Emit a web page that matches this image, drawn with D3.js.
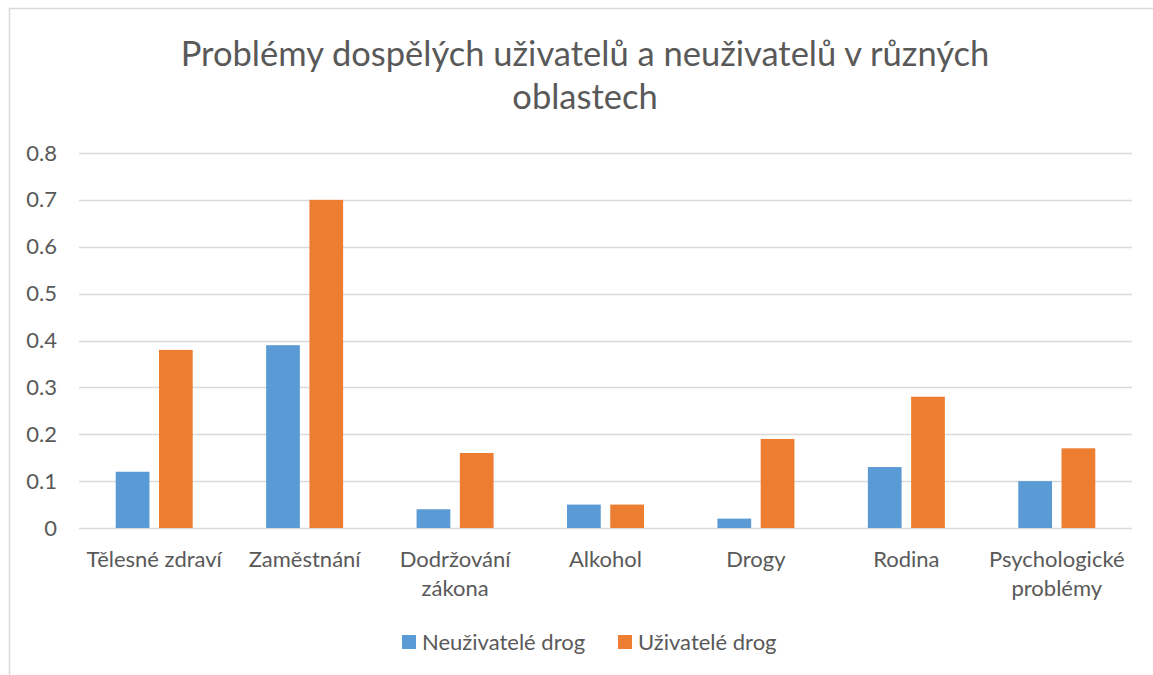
<!DOCTYPE html>
<html>
<head>
<meta charset="utf-8">
<script src="https://cdn.jsdelivr.net/npm/d3@7"></script>
<style>
  body { margin: 0; background: #fff; }
  text { font-family: Lato, "Open Sans", sans-serif; fill: #595959; }
</style>
</head>
<body>
<svg></svg>
<script>
'use strict';

var categories = [
  ['Tělesné zdraví'],
  ['Zaměstnání'],
  ['Dodržování', 'zákona'],
  ['Alkohol'],
  ['Drogy'],
  ['Rodina'],
  ['Psychologické', 'problémy']
];
var seriesNames = ['Neuživatelé drog', 'Uživatelé drog'];
var nonUsers = [0.12, 0.39, 0.04, 0.05, 0.02, 0.13, 0.10];
var users = [0.38, 0.70, 0.16, 0.05, 0.19, 0.28, 0.17];
var yTicks = [0, 0.1, 0.2, 0.3, 0.4, 0.5, 0.6, 0.7, 0.8];
var colors = ['#5b9bd5', '#ed7d31'];

var SVG_SIZE = {width: 1153, height: 675};
var MARGIN = {left: 79, right: 21, top: 153, bottom: 147};
var plotW = SVG_SIZE.width - MARGIN.left - MARGIN.right;
var plotH = SVG_SIZE.height - MARGIN.top - MARGIN.bottom;

var svg = d3.select('svg')
  .attr('width', SVG_SIZE.width).attr('height', SVG_SIZE.height);

// chart frame
svg.append('rect')
  .attr('x', 9.5).attr('y', 8.5)
  .attr('width', 1160).attr('height', 700)
  .attr('fill', 'none').attr('stroke', '#d9d9d9').attr('stroke-width', 1.5);

// title
svg.append('text')
  .attr('x', 585).attr('y', 0)
  .attr('text-anchor', 'middle')
  .style('font-size', '34.5px')
  .selectAll('tspan')
  .data(['Problémy dospělých uživatelů a neuživatelů v různých', 'oblastech'])
  .enter().append('tspan')
  .attr('x', 585)
  .attr('y', function(d, i) { return 66 + i * 43; })
  .text(function(d) { return d; });

var xScale = d3.scaleBand()
  .domain(d3.range(categories.length))
  .range([0, plotW]);

var inner = d3.scaleBand()
  .domain([0, 1])
  .range([0, 77])
  .paddingInner(0.22);

var yScale = d3.scaleLinear()
  .domain([0, 0.8])
  .range([plotH, 0]);

var plot = svg.append('g')
  .attr('transform', 'translate(' + MARGIN.left + ',' + MARGIN.top + ')');

// gridlines
plot.selectAll('.grid').data(yTicks).enter().append('line')
  .attr('x1', 0).attr('x2', plotW)
  .attr('y1', function(d) { return Math.round(yScale(d)) + 0.5; })
  .attr('y2', function(d) { return Math.round(yScale(d)) + 0.5; })
  .attr('stroke', '#d9d9d9').attr('stroke-width', 1.5);

// y axis labels
var yAxis = d3.axisLeft(yScale).tickValues(yTicks).tickSize(0).tickPadding(22)
  .tickFormat(function(d) { return d === 0 ? '0' : d3.format('.1f')(d); });
var yg = plot.append('g').call(yAxis);
yg.select('.domain').remove();
yg.selectAll('text')
  .style('font-size', '22px')
  .style('font-family', 'Lato, "Open Sans", sans-serif')
  .attr('fill', '#595959');

// bars
var series = [nonUsers, users];
series.forEach(function(vals, s) {
  plot.selectAll('.bar' + s).data(vals).enter().append('rect')
    .attr('x', function(d, i) { return xScale(i) + xScale.bandwidth() / 2 - 38.5 + inner(s); })
    .attr('y', function(d) { return yScale(d); })
    .attr('width', inner.bandwidth())
    .attr('height', function(d) { return plotH - yScale(d); })
    .attr('fill', colors[s]);
});

// x labels
var xl = plot.selectAll('.xlab').data(categories).enter().append('text')
  .attr('text-anchor', 'middle')
  .style('font-size', '22px');
xl.selectAll('tspan').data(function(d, i) {
    return d.map(function(t) { return {t: t, i: i}; });
  }).enter().append('tspan')
  .attr('x', function(d) { return xScale(d.i) + xScale.bandwidth() / 2; })
  .attr('y', function(d, j) { return plotH + 39 + j * 29; })
  .text(function(d) { return d.t; });

// legend
var legendX = [402, 618];
seriesNames.forEach(function(name, s) {
  svg.append('rect')
    .attr('x', legendX[s]).attr('y', 635)
    .attr('width', 14).attr('height', 14)
    .attr('fill', colors[s]);
  svg.append('text')
    .attr('x', legendX[s] + 20).attr('y', 650)
    .style('font-size', '22px')
    .text(name);
});
</script>
</body>
</html>
